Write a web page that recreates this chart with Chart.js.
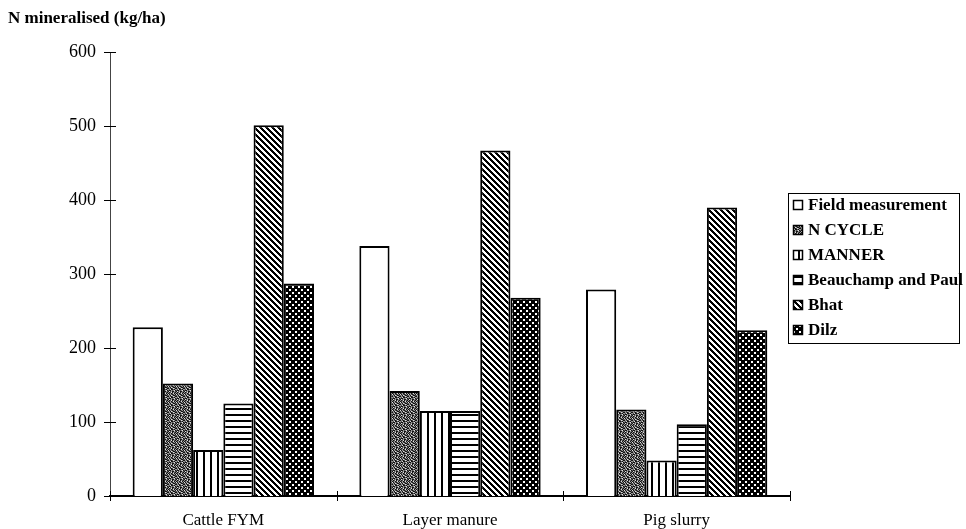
<!DOCTYPE html>
<html>
<head>
<meta charset="utf-8">
<script src="https://cdn.jsdelivr.net/npm/chart.js@4"></script>
<style>
  html, body { margin: 0; padding: 0; background: #fff; }
  #wrap { width: 966px; height: 529px; }
</style>
</head>
<body>
<div id="wrap"><canvas id="chart" width="966" height="529"></canvas></div>
<script>
const categories = ['Cattle FYM', 'Layer manure', 'Pig slurry'];
const seriesNames = ['Field measurement', 'N CYCLE', 'MANNER', 'Beauchamp and Paul', 'Bhat', 'Dilz'];
const fieldMeasurement = [228, 338, 279];
const nCycle = [152, 142, 117];
const manner = [62, 115, 48];
const beauchampPaul = [125, 115, 97];
const bhat = [501, 467, 390];
const dilz = [287, 268, 224];
const yTicks = [0, 100, 200, 300, 400, 500, 600];

// fill patterns like the old b/w hatching
function makePattern(w, h, draw) {
    const c = document.createElement('canvas');
    c.width = w;
    c.height = h;
    const g = c.getContext('2d');
    g.fillStyle = '#fff';
    g.fillRect(0, 0, w, h);
    g.fillStyle = '#000';
    draw(g, w, h);
    return document.createElement('canvas').getContext('2d').createPattern(c, 'repeat');
}

function bitmapPattern(rows, colors) {
    return makePattern(rows[0].length, rows.length, (g) => {
        rows.forEach((row, y) => {
            for (let x = 0; x < row.length; x++) {
                g.fillStyle = colors[row[x]];
                g.fillRect(x, y, 1, 1);
            }
        });
    });
}

const patterns = [
    '#ffffff',
    bitmapPattern([
        '20130210',
        '01201302',
        '30210120',
        '12032001',
        '02101320',
        '21300102',
        '10021230',
        '03120021'
    ], { '0': '#111', '1': '#555', '2': '#999', '3': '#ddd' }),
    makePattern(7, 4, (g) => { g.fillRect(0, 0, 2, 4); }),
    makePattern(4, 6, (g) => { g.fillRect(0, 0, 4, 2); }),
    makePattern(6, 6, (g) => {
        for (let y = 0; y < 6; y++) {
            for (let x = 0; x < 6; x++) {
                if (((x - y) % 6 + 6) % 6 < 3) g.fillRect(x, y, 1, 1);
            }
        }
    }),
    makePattern(6, 6, (g) => {
        g.fillRect(0, 0, 6, 6);
        g.fillStyle = '#fff';
        g.fillRect(1, 1, 2, 2);
        g.fillRect(4, 4, 2, 2);
    })
];

const values = [fieldMeasurement, nCycle, manner, beauchampPaul, bhat, dilz];

const datasets = seriesNames.map((name, i) => ({
    label: name,
    data: values[i],
    backgroundColor: patterns[i],
    borderColor: '#000',
    borderWidth: 2,
    borderSkipped: 'bottom',
    categoryPercentage: 0.8,
    barPercentage: 1.0
}));

const serif = '"Liberation Serif", "Times New Roman", serif';

// axis title in the top left corner
const titlePlugin = {
    id: 'cornerTitle',
    afterDraw(chart) {
        const ctx = chart.ctx;
        ctx.save();
        ctx.font = 'bold 17px ' + serif;
        ctx.fillStyle = '#000';
        ctx.textBaseline = 'middle';
        ctx.fillText('N mineralised (kg/ha)', 8, 19);
        ctx.restore();
    }
};

// tick marks that cross the axes
const crossTicks = {
    id: 'crossTicks',
    afterDraw(chart) {
        const ctx = chart.ctx;
        const y = chart.scales.y;
        const area = chart.chartArea;
        ctx.save();
        ctx.strokeStyle = '#000';
        ctx.lineWidth = 1;
        ctx.beginPath();
        yTicks.forEach((v) => {
            const py = Math.round(y.getPixelForValue(v)) + 0.5;
            ctx.moveTo(area.left - 6, py);
            ctx.lineTo(area.left + 6, py);
        });
        for (let i = 0; i <= categories.length; i++) {
            const px = Math.round(area.left + (area.right - area.left) * i / categories.length) + 0.5;
            ctx.moveTo(px, area.bottom - 5);
            ctx.lineTo(px, area.bottom + 5);
        }
        ctx.stroke();
        ctx.restore();
    }
};

// boxed legend at the right edge
const boxLegend = {
    id: 'boxLegend',
    afterDraw(chart) {
        const ctx = chart.ctx;
        const left = 788, top = 193, rowH = 25;
        ctx.save();
        ctx.strokeStyle = '#000';
        ctx.lineWidth = 1;
        ctx.strokeRect(left + 0.5, top + 0.5, 959 - left, rowH * seriesNames.length);
        ctx.font = 'bold 17px ' + serif;
        ctx.textBaseline = 'middle';
        chart.data.datasets.forEach((ds, i) => {
            const cy = top + 12 + i * rowH;
            ctx.fillStyle = ds.backgroundColor;
            ctx.fillRect(793, cy - 5, 10, 10);
            ctx.lineWidth = 1.5;
            ctx.strokeRect(793.5, cy - 4.5, 9, 9);
            ctx.fillStyle = '#000';
            ctx.fillText(ds.label, 808, cy + 1);
        });
        ctx.restore();
    }
};

new Chart(document.getElementById('chart'), {
    type: 'bar',
    data: { labels: categories, datasets: datasets },
    options: {
        responsive: false,
        animation: false,
        layout: { padding: { top: 52, right: 176, left: 0, bottom: 0 } },
        plugins: {
            legend: { display: false },
            tooltip: { enabled: false }
        },
        scales: {
            x: {
                afterFit(scale) { scale.height = 33; },
                grid: { display: false },
                border: { color: '#000', width: 2 },
                ticks: {
                    color: '#000',
                    font: { family: serif, size: 17 },
                    padding: 6
                }
            },
            y: {
                min: 0,
                max: 600,
                afterFit(scale) { scale.width = 110; },
                afterBuildTicks(scale) { scale.ticks = yTicks.map(v => ({ value: v })); },
                grid: { display: false },
                border: { color: '#444', width: 1, dash: [6, 2] },
                ticks: {
                    color: '#000',
                    font: { family: serif, size: 18 },
                    padding: 6
                }
            }
        }
    },
    plugins: [titlePlugin, crossTicks, boxLegend]
});
</script>
</body>
</html>
